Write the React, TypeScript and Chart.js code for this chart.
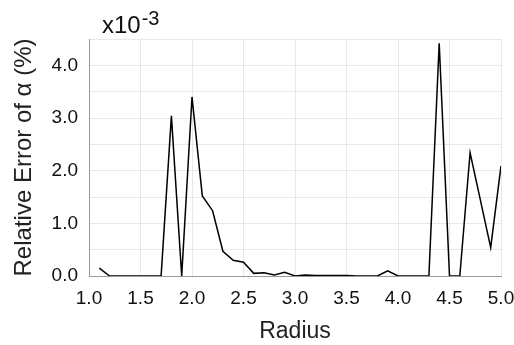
import React, { useEffect, useRef } from "react";
import { Chart, registerables } from "chart.js";

Chart.register(...registerables);

const radius = [1.1, 1.2, 1.3, 1.4, 1.5, 1.6, 1.7, 1.8, 1.9, 2.0, 2.1, 2.2, 2.3, 2.4, 2.5, 2.6, 2.7, 2.8, 2.9, 3.0, 3.1, 3.2, 3.3, 3.4, 3.5, 3.6, 3.7, 3.8, 3.9, 4.0, 4.1, 4.2, 4.3, 4.4, 4.5, 4.6, 4.7, 4.8, 4.9, 5.0];
const relError = [0.15, 0, 0, 0, 0, 0, 0, 3.04, 0, 3.4, 1.52, 1.24, 0.47, 0.3, 0.26, 0.05, 0.06, 0.02, 0.07, 0, 0.02, 0.01, 0.01, 0.01, 0.01, 0, 0, 0, 0.1, 0, 0, 0, 0, 4.42, 0, 0, 2.34, 1.44, 0.54, 2.09];

const FONT = "'Liberation Sans', Arial, sans-serif";

const exponentPlugin = {
  id: "exponentLabel",
  afterDraw(chart: any) {
    const ctx = chart.ctx;
    ctx.save();
    ctx.fillStyle = "#111";
    ctx.textBaseline = "alphabetic";
    ctx.textAlign = "left";
    ctx.font = `24px ${FONT}`;
    const base = "x10";
    ctx.fillText(base, 102, 33);
    const w = ctx.measureText(base).width;
    ctx.font = `20px ${FONT}`;
    ctx.fillText("-3", 102 + w + 1, 25);
    ctx.restore();
  },
};

export default function App() {
  const ref = useRef<HTMLCanvasElement | null>(null);
  useEffect(() => {
    document.body.style.margin = "0";
    const chart = new Chart(ref.current as HTMLCanvasElement, {
      type: "line",
      data: {
        datasets: [
          {
            data: radius.map((r, i) => ({ x: r, y: relError[i] })),
            borderColor: "#000",
            borderWidth: 1.5,
            pointRadius: 0,
            tension: 0,
            fill: false,
          },
        ],
      },
      options: {
        animation: false,
        responsive: false,
        maintainAspectRatio: false,
        layout: { padding: { left: 0, right: 13, top: 39, bottom: 0 } },
        plugins: { legend: { display: false }, tooltip: { enabled: false } },
        scales: {
          x: {
            type: "linear",
            min: 1,
            max: 5,
            grid: { color: "#e8e8e8", drawTicks: false },
            border: { color: "#9a9a9a", width: 1 },
            ticks: {
              stepSize: 0.5,
              padding: 11,
              color: "#111",
              font: { family: FONT, size: 19 },
              maxRotation: 0,
              callback: (v: any) => Number(v).toFixed(1),
            },
            title: {
              display: true,
              text: "Radius",
              color: "#222",
              font: { family: FONT, size: 23 },
              padding: { top: 2, bottom: 0 },
            },
            afterFit: (s: any) => {
              s.height = 69;
              s.paddingLeft = 0;
              s.paddingRight = 0;
            },
          },
          y: {
            min: 0,
            max: 4.5,
            grid: { color: "#e8e8e8", drawTicks: false },
            border: { color: "#9a9a9a", width: 1 },
            ticks: {
              stepSize: 0.5,
              padding: 11,
              color: "#111",
              font: { family: FONT, size: 19 },
              callback: (v: any) => (Math.abs(v % 1) < 1e-9 ? Number(v).toFixed(1) : ""),
            },
            title: {
              display: true,
              text: "Relative Error of α (%)",
              color: "#222",
              font: { family: FONT, size: 24 },
              padding: { top: 10, bottom: 0 },
            },
            afterFit: (s: any) => {
              s.width = 89;
            },
          },
        },
      },
      plugins: [exponentPlugin],
    } as any);
    return () => chart.destroy();
  }, []);
  return (
    <div style={{ position: "fixed", left: 0, top: 0, width: 514, height: 345, background: "#fff" }}>
      <canvas ref={ref} width={514} height={345} />
    </div>
  );
}
